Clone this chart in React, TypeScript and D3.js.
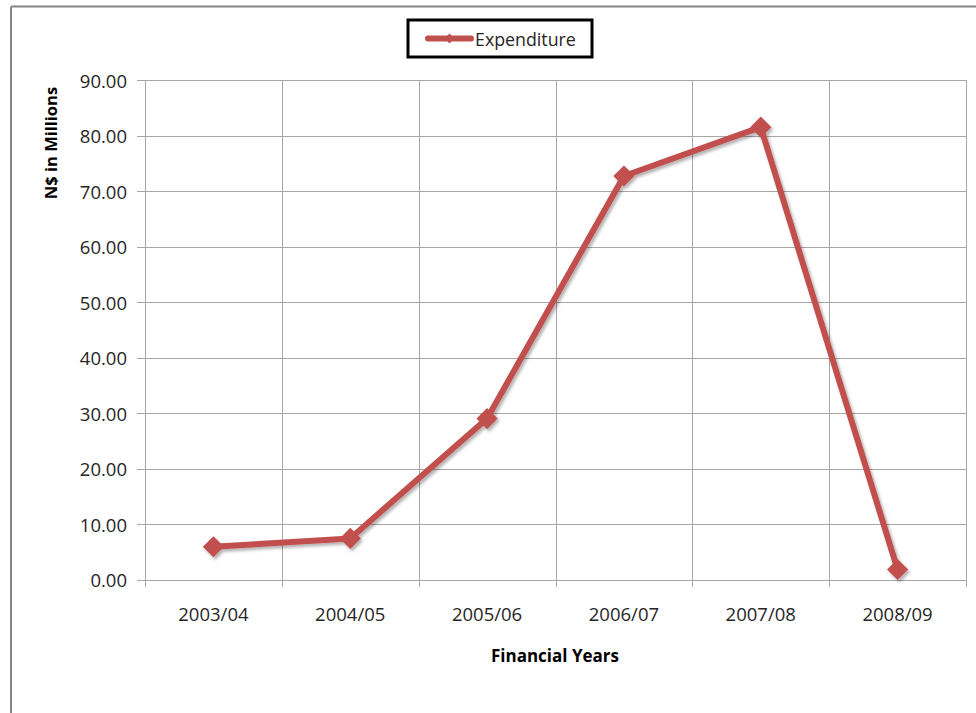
import React from "react";
import * as d3 from "d3";

const categories = ["2003/04", "2004/05", "2005/06", "2006/07", "2007/08", "2008/09"];
const expenditure = [5.9, 7.4, 29.0, 72.7, 81.5, 1.8];
const yTicks = [0, 10, 20, 30, 40, 50, 60, 70, 80, 90];
const seriesName = "Expenditure";
const xTitle = "Financial Years";
const yTitle = "N$ in Millions";

const W = 976;
const H = 713;
const plot = { left: 145, right: 966, top: 80, bottom: 579.5 };
const RED = "#C0504D";
const FONT = "'Open Sans', 'Noto Sans', sans-serif";

export default function App() {
  const x = d3
    .scaleBand<string>()
    .domain(categories)
    .range([plot.left, plot.right])
    .paddingInner(0)
    .paddingOuter(0);
  const y = d3.scaleLinear().domain([0, 90]).range([plot.bottom, plot.top]);
  const cx = (c: string) => (x(c) as number) + x.bandwidth() / 2;
  const line = d3
    .line<number>()
    .x((_, i) => cx(categories[i]))
    .y((d) => y(d));
  const diamond = d3.symbol().type(d3.symbolSquare).size(225)() as string;
  const boundaries = categories.map((c) => x(c) as number).concat([plot.right]);

  return (
    <svg
      width={W}
      height={H}
      style={{ position: "absolute", left: 0, top: 0, background: "#fff" }}
      fontFamily={FONT}
    >
      <defs>
        <filter id="sh" x="-20%" y="-20%" width="140%" height="140%">
          <feDropShadow dx="2" dy="2.5" stdDeviation="1.5" floodColor="#000" floodOpacity="0.3" />
        </filter>
      </defs>
      <rect x={0} y={0} width={W} height={H} fill="#fff" />
      {/* outer border */}
      <line x1={11} y1={6.5} x2={W} y2={6.5} stroke="#868686" strokeWidth={2} />
      <line x1={11} y1={6.5} x2={11} y2={H} stroke="#868686" strokeWidth={2} />

      {/* horizontal gridlines */}
      {yTicks.map((t) => (
        <line
          key={"h" + t}
          x1={137}
          x2={plot.right}
          y1={Math.round(y(t)) + 0.5}
          y2={Math.round(y(t)) + 0.5}
          stroke="#a6a6a6"
          strokeWidth={1}
        />
      ))}
      {/* vertical gridlines */}
      {boundaries.map((b, i) => (
        <line
          key={"v" + i}
          x1={Math.round(b) + 0.5}
          x2={Math.round(b) + 0.5}
          y1={plot.top}
          y2={587}
          stroke="#a6a6a6"
          strokeWidth={1}
        />
      ))}

      {/* y tick labels */}
      {yTicks.map((t) => (
        <text
          key={"yl" + t}
          x={127}
          y={y(t)}
          textAnchor="end"
          dominantBaseline="central"
          fontSize={18.5}
          fill="#262626"
        >
          {t.toFixed(2)}
        </text>
      ))}
      {/* x tick labels */}
      {categories.map((c) => (
        <text
          key={"xl" + c}
          x={cx(c)}
          y={613}
          textAnchor="middle"
          dominantBaseline="central"
          fontSize={18.5}
          fill="#262626"
        >
          {c}
        </text>
      ))}

      {/* axis titles */}
      <text
        x={555}
        y={655}
        textAnchor="middle"
        dominantBaseline="central"
        fontSize={17}
        fontWeight="bold"
        fill="#000"
      >
        {xTitle}
      </text>
      <text
        transform={`translate(50,143) rotate(-90)`}
        textAnchor="middle"
        dominantBaseline="central"
        fontSize={16.5}
        fontWeight="bold"
        fill="#000"
      >
        {yTitle}
      </text>

      {/* series */}
      <g filter="url(#sh)">
        <path
          d={line(expenditure) as string}
          fill="none"
          stroke={RED}
          strokeWidth={6}
          strokeLinejoin="round"
          strokeLinecap="round"
        />
        {expenditure.map((v, i) => (
          <path
            key={"m" + i}
            d={diamond}
            transform={`translate(${cx(categories[i])},${y(v)}) rotate(45)`}
            fill={RED}
          />
        ))}
      </g>

      {/* legend */}
      <rect x={408} y={20} width={184} height={37} fill="#fff" stroke="#000" strokeWidth={3} />
      <line x1={428} y1={38.5} x2={471} y2={38.5} stroke={RED} strokeWidth={6} strokeLinecap="round" />
      <path d={d3.symbol().type(d3.symbolSquare).size(50)() as string} transform="translate(449.5,38.5) rotate(45)" fill={RED} />
      <text x={475} y={38.5} dominantBaseline="central" fontSize={17.8} fill="#262626">
        {seriesName}
      </text>
    </svg>
  );
}
